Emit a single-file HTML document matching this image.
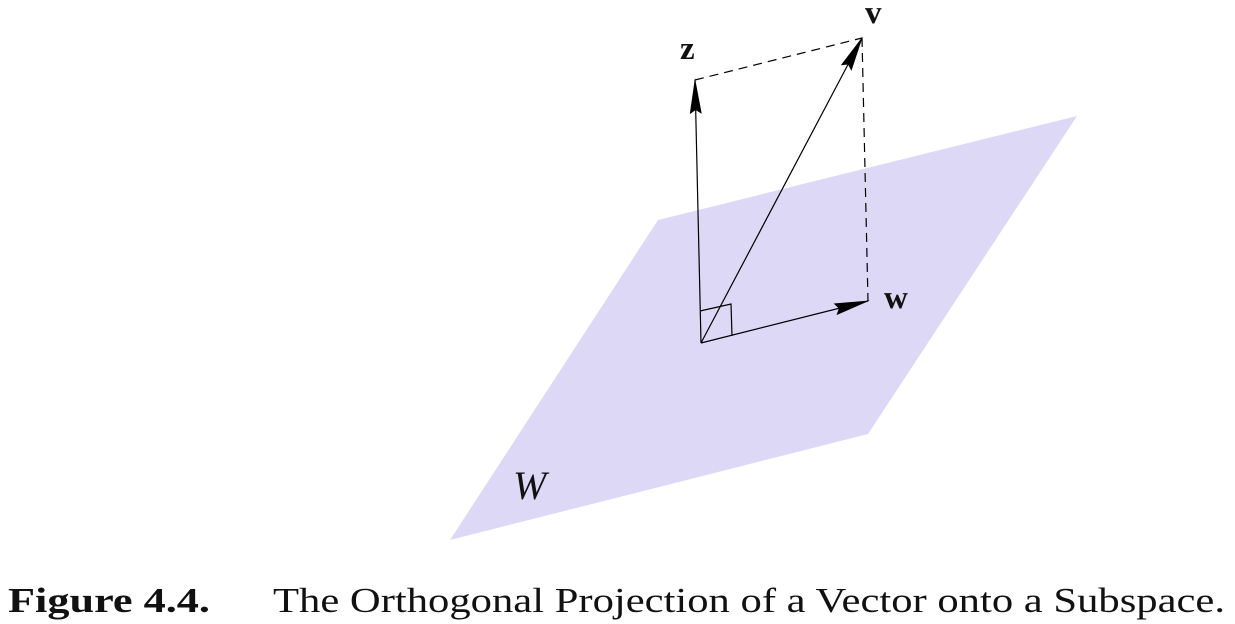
<!DOCTYPE html>
<html><head><meta charset="utf-8"><style>html,body{margin:0;padding:0;background:#fff}svg{display:block}</style></head>
<body>
<svg width="1235" height="624" viewBox="0 0 1235 624">
<defs>
<marker id="ah" markerWidth="36" markerHeight="12" refX="34" refY="6" orient="auto" markerUnits="userSpaceOnUse">
<path d="M0,0 L36,6 L0,12 L4,6 Z" fill="#000"/>
</marker>
</defs>
<polygon points="450,540 658,220 1077,116 868,434" fill="#ddd8f6"/>
<g stroke="#000" stroke-width="1.2" stroke-dasharray="9,6" fill="none">
<line x1="695" y1="80" x2="862" y2="38"/>
<line x1="862" y1="38" x2="868" y2="301"/>
</g>
<path d="M700,311 L731,304 L732,336" stroke="#000" stroke-width="1.2" fill="none"/>
<line x1="701" y1="343" x2="695" y2="80" stroke="#000" stroke-width="1.2" marker-end="url(#ah)"/>
<line x1="701" y1="343" x2="862" y2="38" stroke="#000" stroke-width="1.2" marker-end="url(#ah)"/>
<line x1="701" y1="343" x2="868" y2="301" stroke="#000" stroke-width="1.2" marker-end="url(#ah)"/>
<g font-family="Liberation Serif, serif" fill="#111">
<text x="680" y="59" font-size="33" font-weight="bold">z</text>
<text x="865" y="23" font-size="33" font-weight="bold">v</text>
<text x="884" y="308" font-size="33" font-weight="bold">w</text>
<text x="513" y="499" font-size="40" font-style="italic">W</text>
<text x="8" y="612" font-size="35" font-weight="bold" textLength="202" lengthAdjust="spacingAndGlyphs">Figure 4.4.</text>
<text x="273" y="612" font-size="35" textLength="952" lengthAdjust="spacingAndGlyphs">The Orthogonal Projection of a Vector onto a Subspace.</text>
</g>
</svg>
</body></html>
